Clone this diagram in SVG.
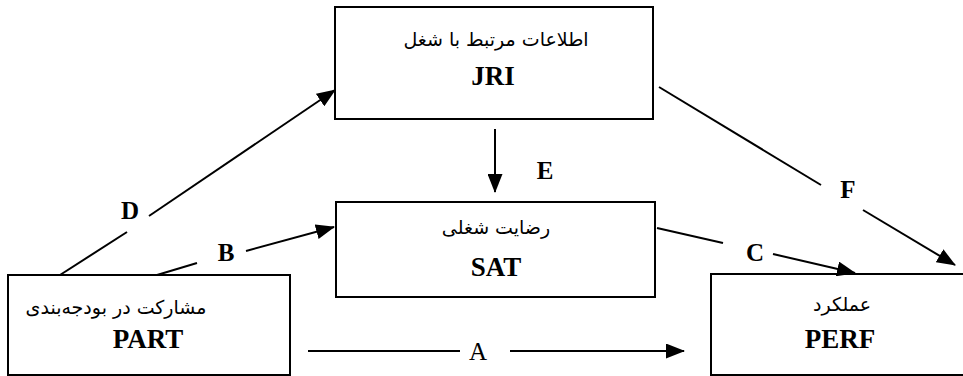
<svg xmlns="http://www.w3.org/2000/svg" width="963" height="376" viewBox="0 0 963 376">
<style>
.box{fill:#fff;stroke:#000;stroke-width:2}
.fa{font-family:'DejaVu Sans',sans-serif;font-size:19px;direction:rtl;text-anchor:middle;fill:#000}
.en{font-family:'Liberation Serif','Times New Roman',serif;font-size:27px;font-weight:bold;text-anchor:middle;fill:#000}
.lb{font-family:'Liberation Serif','Times New Roman',serif;font-size:25px;font-weight:bold;text-anchor:middle;fill:#000}
.lr{font-family:'Liberation Serif','Times New Roman',serif;font-size:25px;text-anchor:middle;fill:#000}
.ln{stroke:#000;stroke-width:2;fill:none}
</style>
<defs>
<marker id="ah" markerUnits="userSpaceOnUse" markerWidth="19" markerHeight="15" refX="18" refY="7.5" orient="auto" viewBox="0 0 19 15">
<path d="M0,0 L19,7.5 L0,15 z" fill="#000"/>
</marker>
</defs>
<rect width="963" height="376" fill="#fff"/>
<g id="JRI">
<rect class="box" x="335" y="7" width="318" height="112"/>
<text class="fa" x="496" y="46">اطلاعات مرتبط با شغل</text>
<text class="en" x="493" y="85">JRI</text>
</g>
<g id="SAT">
<rect class="box" x="336" y="202" width="319" height="95"/>
<text class="fa" x="496" y="234">رضایت شغلی</text>
<text class="en" x="496" y="276">SAT</text>
</g>
<g id="PART">
<rect class="box" x="8" y="275" width="282" height="100"/>
<text class="fa" x="116" y="314">مشارکت در بودجه‌بندی</text>
<text class="en" x="148" y="348">PART</text>
</g>
<g id="PERF">
<rect class="box" x="711" y="274" width="262" height="101"/>
<text class="fa" x="842" y="311">عملکرد</text>
<text class="en" x="840" y="348">PERF</text>
</g>
<g id="connectors">
<line class="ln" x1="60" y1="275" x2="127" y2="232"/>
<line class="ln" x1="149" y1="216" x2="335" y2="90" marker-end="url(#ah)"/>
<text class="lb" x="130" y="219">D</text>
<line class="ln" x1="157" y1="275" x2="197" y2="263"/>
<line class="ln" x1="246" y1="251" x2="334" y2="227" marker-end="url(#ah)"/>
<text class="lb" x="226" y="261">B</text>
<line class="ln" x1="495" y1="129" x2="495" y2="192" marker-end="url(#ah)"/>
<text class="lb" x="545" y="179">E</text>
<line class="ln" x1="659" y1="87" x2="821" y2="185"/>
<line class="ln" x1="863" y1="210" x2="955" y2="265" marker-end="url(#ah)"/>
<text class="lb" x="848" y="198">F</text>
<line class="ln" x1="657" y1="228" x2="723" y2="243"/>
<line class="ln" x1="773" y1="254" x2="855" y2="273" marker-end="url(#ah)"/>
<text class="lb" x="755" y="261">C</text>
<line class="ln" x1="308" y1="351" x2="460" y2="351"/>
<line class="ln" x1="510" y1="351" x2="684" y2="351" marker-end="url(#ah)"/>
<text class="lr" x="478" y="360">A</text>
</g>
</svg>
